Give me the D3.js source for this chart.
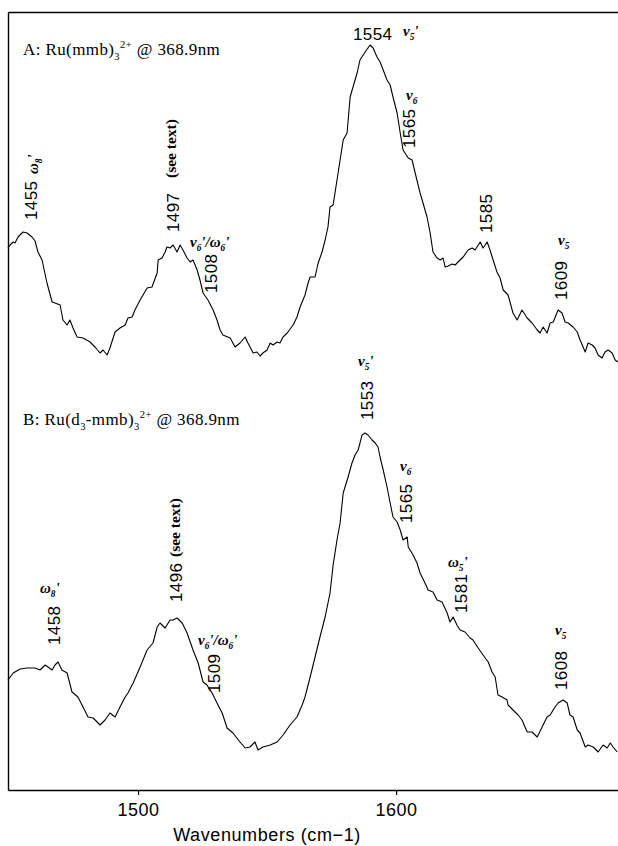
<!DOCTYPE html>
<html>
<head>
<meta charset="utf-8">
<script src="https://cdn.jsdelivr.net/npm/d3@7"></script>
<style>
  body { margin: 0; background: #fff; }
  svg { display: block; }
</style>
</head>
<body>
<div id="chart"></div>
<script>
// ------------------------------
// Data
// ------------------------------

// Spectrum A: Ru(mmb)3 2+ @ 368.9nm
const wavenumberA = [1449.6,1450.4,1451.6,1452.3,1453.5,1455.4,1457.0,1458.9,1460.1,1461.2,
  1462.8,1464.7,1466.7,1467.8,1469.8,1470.9,1472.5,1473.6,1474.8,1476.4,
  1478.7,1481.4,1483.3,1485.3,1486.4,1488.0,1489.1,1491.1,1493.0,1495.0,
  1496.1,1497.7,1498.8,1500.8,1503.5,1505.4,1507.4,1507.8,1509.3,1510.5,
  1511.2,1512.4,1513.6,1515.1,1516.3,1517.4,1519.0,1520.2,1521.3,1522.9,
  1524.0,1525.2,1527.1,1529.1,1530.6,1531.8,1532.9,1535.7,1537.6,1539.5,
  1541.5,1542.6,1544.6,1546.1,1547.3,1548.4,1550.0,1551.2,1552.3,1553.9,
  1555.0,1556.2,1557.8,1560.1,1561.6,1562.8,1564.7,1565.9,1566.7,1568.6,
  1569.8,1571.3,1572.5,1573.6,1574.4,1575.6,1577.1,1578.3,1579.5,1581.0,
  1582.2,1583.3,1584.9,1586.0,1588.0,1589.9,1591.1,1592.6,1593.8,1595.0,
  1596.5,1597.7,1598.8,1600.4,1601.6,1602.7,1604.7,1606.2,1607.4,1609.3,
  1610.1,1612.0,1613.2,1614.3,1615.9,1617.1,1618.2,1619.0,1620.2,1621.7,
  1622.9,1624.0,1626.0,1627.9,1629.5,1630.6,1632.6,1633.7,1635.3,1636.4,
  1637.6,1639.1,1640.3,1641.5,1643.4,1645.3,1646.9,1648.8,1650.8,1652.7,
  1654.7,1655.8,1657.0,1658.5,1659.7,1660.9,1662.8,1664.3,1665.5,1666.7,
  1668.6,1670.2,1671.3,1673.3,1674.4,1676.0,1677.1,1678.3,1679.8,1681.0,
  1682.2,1683.7,1684.9,1686.0];
const intensityA = [271,272.5,274,273.5,276.5,279,278.5,276.5,274.5,269,
  265,253.5,244,243.5,242.5,235,232.5,235,231,226.5,
  226,224,221.5,218.5,220,217.5,221,229,231,232.5,
  236,236.5,240,245,251,251.5,258.5,265,266,269,
  271.5,271,272.5,269,272.5,270,266,264,265,260,
  255,248.5,245,240,235,230,227.5,226,221.5,223.5,
  226.5,223.5,218.5,219,217,218.5,220,223.5,222.5,224,
  223.5,226.5,228.5,232.5,236.5,241.5,247.5,253.5,256.5,256.5,
  263.5,269,275,281.5,291.5,292.5,305,315,325,328.5,
  346.5,351.5,358.5,365,369,372.5,371,366.5,364,360,
  355,352.5,346.5,338.5,328.5,320,316,315,308.5,298.5,
  295,286.5,278.5,269,266,265,266,261.5,262,263,
  262.5,264,266.5,270,271,270,274,271,274,270,
  265,259,256,250,247.5,238.5,235,240,236,233.5,
  230,228.5,231.5,228.5,233.5,234,240,238.5,234,233.5,
  231.5,229,225,219,223.5,222.5,221,217.5,216,219,
  220,218.5,215,214];

// Spectrum B: Ru(d3-mmb)3 2+ @ 368.9nm
const wavenumberB = [1449.6,1451.6,1454.3,1457.0,1460.1,1462.0,1464.0,1465.1,1466.7,1467.8,
  1469.0,1470.5,1472.5,1474.4,1476.7,1478.7,1480.6,1482.6,1485.3,1487.2,
  1489.1,1491.1,1493.0,1495.0,1496.1,1498.1,1500.8,1503.5,1505.8,1507.4,
  1508.5,1510.5,1512.4,1513.6,1515.1,1517.1,1519.0,1521.3,1523.3,1525.2,
  1526.7,1528.7,1530.6,1532.6,1534.5,1536.8,1539.5,1541.5,1543.4,1545.3,
  1546.5,1548.4,1551.2,1553.9,1556.2,1558.9,1561.6,1563.6,1564.7,1566.7,
  1568.6,1570.5,1572.5,1574.4,1575.6,1577.1,1578.3,1579.5,1581.4,1582.9,
  1584.1,1585.3,1586.0,1586.8,1588.0,1589.1,1590.7,1591.9,1593.0,1593.8,
  1595.0,1596.5,1597.7,1598.8,1600.4,1601.6,1602.7,1604.3,1604.7,1606.6,
  1608.1,1609.3,1611.2,1612.4,1614.3,1615.9,1617.8,1619.8,1620.9,1622.1,
  1623.6,1624.8,1626.7,1628.7,1629.8,1631.8,1633.7,1635.7,1637.2,1638.4,
  1639.5,1641.1,1643.0,1643.4,1645.3,1647.3,1648.8,1650.8,1652.7,1654.7,
  1656.6,1658.5,1659.7,1661.6,1662.8,1664.7,1666.3,1667.4,1668.6,1670.2,
  1671.3,1673.3,1674.4,1676.4,1678.3,1680.2,1681.8,1683.0,1684.1,1685.7];
const intensityB = [55,58.5,60.5,61,61,60,62.5,61.5,60,62.5,
  64,60,58.5,49,46.5,41.5,36.5,36,32.5,35,
  38.5,36.5,41.5,46.5,48.5,53.5,61.5,70,73.5,81.5,
  83.5,81,85,85,86,83.5,78.5,70,63.5,54,
  52.5,48.5,43.5,38.5,31,28.5,24,21,21.5,24,
  20,21.5,22.5,24,27.5,32.5,36.5,42.5,46.5,56.5,
  66.5,76.5,86.5,98.5,112.5,125,133.5,148.5,156.5,163.5,
  167.5,170,173.5,177.5,178.5,177.5,175,173.5,171.5,166.5,
  160,151.5,143.5,136.5,134,130,125,126.5,121.5,117.5,
  113.5,108.5,103.5,100,99,95,94,88.5,84,86.5,
  82.5,80,79,76,75,71,67.5,64,59,56.5,
  47.5,46.5,45,42.5,40,37.5,35,29,29,26.5,
  31.5,36.5,37.5,41.5,43.5,45,43.5,37.5,36.5,30,
  28.5,21.5,22.5,21.5,19,22.5,21,23.5,21.5,19];

const tickValues = [1500, 1600];
const xLabel = "Wavenumbers (cm\u22121)";

// Titles and peak labels (text parts; sub/sup flags mark sub- and superscripts)
const titleA = [{ t: "A: Ru(mmb)" }, { t: "3", sub: true }, { t: "2+", sup: true }, { t: " @ 368.9nm" }];
const titleB = [{ t: "B: Ru(d" }, { t: "3", sub: true }, { t: "-mmb)" }, { t: "3", sub: true }, { t: "2+", sup: true }, { t: " @ 368.9nm" }];

// ------------------------------
// Layout
// ------------------------------

const width = 618;
const height = 846;
const plot = { left: 8, right: 618, top: 12, bottom: 790 };

const NUM_FONT = "'Liberation Sans', Arial, sans-serif";
const SERIF_FONT = "'Liberation Serif', 'Times New Roman', serif";

const styles = {
  title: { family: SERIF_FONT, size: 17, weight: "normal", style: "normal", spacing: 0.4 },
  num: { family: NUM_FONT, size: 17, weight: "normal", style: "normal", spacing: 0.4 },
  greek: { family: SERIF_FONT, size: 15, weight: "bold", style: "italic", spacing: 0 },
  bold: { family: SERIF_FONT, size: 15.5, weight: "bold", style: "normal", spacing: 0 },
};

// annotation placement in page pixels (rotated ones read bottom to top)
const annotations = [
  { parts: titleA, kind: "title", x: 23, y: 55 },
  { parts: [{ t: "1455" }], kind: "num", rot: true, x: 37, y: 220 },
  { parts: [{ t: "ω" }, { t: "8", sub: true }, { t: "'" }], kind: "greek", rot: true, x: 38, y: 174 },
  { parts: [{ t: "1497" }], kind: "num", rot: true, x: 179, y: 232 },
  { parts: [{ t: "(see text)" }], kind: "bold", rot: true, x: 176, y: 178 },
  { parts: [{ t: "ν" }, { t: "6", sub: true }, { t: "'/ω" }, { t: "6", sub: true }, { t: "'" }], kind: "greek", x: 190, y: 247 },
  { parts: [{ t: "1508" }], kind: "num", rot: true, x: 217, y: 293 },
  { parts: [{ t: "1554" }], kind: "num", x: 353, y: 40 },
  { parts: [{ t: "ν" }, { t: "5", sub: true }, { t: "'" }], kind: "greek", x: 403, y: 36 },
  { parts: [{ t: "ν" }, { t: "6", sub: true }], kind: "greek", x: 406, y: 100 },
  { parts: [{ t: "1565" }], kind: "num", rot: true, x: 415, y: 148 },
  { parts: [{ t: "1585" }], kind: "num", rot: true, x: 492, y: 233 },
  { parts: [{ t: "ν" }, { t: "5", sub: true }], kind: "greek", x: 558, y: 245 },
  { parts: [{ t: "1609" }], kind: "num", rot: true, x: 567, y: 300 },

  { parts: titleB, kind: "title", x: 23, y: 425 },
  { parts: [{ t: "ω" }, { t: "8", sub: true }, { t: "'" }], kind: "greek", x: 40, y: 593 },
  { parts: [{ t: "1458" }], kind: "num", rot: true, x: 60, y: 645 },
  { parts: [{ t: "1496" }], kind: "num", rot: true, x: 182, y: 602 },
  { parts: [{ t: "(see text)" }], kind: "bold", rot: true, x: 180, y: 557 },
  { parts: [{ t: "ν" }, { t: "6", sub: true }, { t: "'/ω" }, { t: "6", sub: true }, { t: "'" }], kind: "greek", x: 198, y: 645 },
  { parts: [{ t: "1509" }], kind: "num", rot: true, x: 220, y: 693 },
  { parts: [{ t: "ν" }, { t: "5", sub: true }, { t: "'" }], kind: "greek", x: 358, y: 366 },
  { parts: [{ t: "1553" }], kind: "num", rot: true, x: 373, y: 420 },
  { parts: [{ t: "ν" }, { t: "6", sub: true }], kind: "greek", x: 400, y: 471 },
  { parts: [{ t: "1565" }], kind: "num", rot: true, x: 412, y: 523 },
  { parts: [{ t: "ω" }, { t: "5", sub: true }, { t: "'" }], kind: "greek", x: 448, y: 567 },
  { parts: [{ t: "1581" }], kind: "num", rot: true, x: 467, y: 613 },
  { parts: [{ t: "ν" }, { t: "5", sub: true }], kind: "greek", x: 555, y: 635 },
  { parts: [{ t: "1608" }], kind: "num", rot: true, x: 567, y: 690 },
];

// ------------------------------
// Chart
// ------------------------------

const svg = d3.select("#chart").append("svg").attr("width", width).attr("height", height);

const x = d3.scaleLinear().domain([1449.6, 1686.0]).range([plot.left, plot.right]);
const y = d3.scaleLinear().domain([0, 389]).range([plot.bottom, plot.top]);

// frame: left and top lines without ticks
svg.append("g")
  .attr("transform", `translate(${plot.left},0)`)
  .call(d3.axisLeft(y).tickValues([]).tickSizeOuter(0))
  .call((g) => g.select(".domain").attr("stroke-width", 1.4));

svg.append("g")
  .attr("transform", `translate(0,${plot.top})`)
  .call(d3.axisTop(x).tickValues([]).tickSizeOuter(0))
  .call((g) => g.select(".domain").attr("stroke-width", 1.4));

// bottom axis with the two labelled ticks
const xAxis = svg.append("g")
  .attr("transform", `translate(0,${plot.bottom})`)
  .call(d3.axisBottom(x).tickValues(tickValues).tickFormat(d3.format("d")).tickSize(5).tickSizeOuter(0).tickPadding(8));
xAxis.select(".domain").attr("stroke-width", 1.4);
xAxis.selectAll(".tick line").attr("stroke-width", 1.2);
xAxis.selectAll(".tick text")
  .attr("font-family", NUM_FONT)
  .attr("font-size", 18)
  .attr("letter-spacing", 0.5)
  .attr("fill", "#000");

svg.append("text")
  .attr("x", 267)
  .attr("y", 841)
  .attr("text-anchor", "middle")
  .attr("font-family", NUM_FONT)
  .attr("font-size", 18)
  .attr("letter-spacing", 0.6)
  .text(xLabel);

// spectra
const line = d3.line().x((d) => x(d[0])).y((d) => y(d[1]));
const spectra = [d3.zip(wavenumberA, intensityA), d3.zip(wavenumberB, intensityB)];

svg.selectAll("path.spectrum")
  .data(spectra)
  .join("path")
  .attr("class", "spectrum")
  .attr("fill", "none")
  .attr("stroke", "#000")
  .attr("stroke-width", 1.1)
  .attr("stroke-linejoin", "round")
  .attr("d", line);

// annotations
annotations.forEach((a) => {
  const st = styles[a.kind];
  const text = svg.append("text")
    .attr("transform", a.rot ? `translate(${a.x},${a.y}) rotate(-90)` : `translate(${a.x},${a.y})`)
    .attr("font-family", st.family)
    .attr("font-size", st.size)
    .attr("font-weight", st.weight)
    .attr("font-style", st.style)
    .attr("letter-spacing", st.spacing)
    .attr("fill", "#000");

  // sub/superscripts are done with dy shifts relative to the baseline
  let shift = 0;
  a.parts.forEach((p) => {
    const small = p.sub || p.sup;
    const target = p.sub ? st.size * 0.28 : p.sup ? -st.size * 0.42 : 0;
    text.append("tspan")
      .attr("dy", target - shift)
      .attr("font-size", small ? st.size * 0.62 : st.size)
      .text(p.t);
    shift = target;
  });
});
</script>
</body>
</html>
